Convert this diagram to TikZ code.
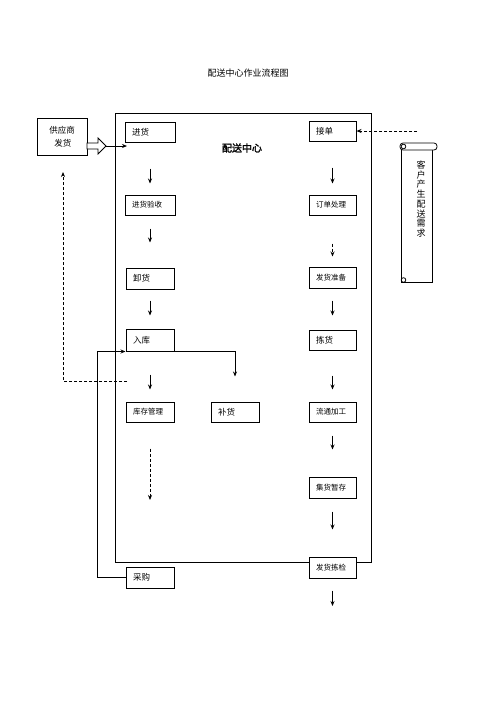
\documentclass[tikz,border=0pt]{standalone}
\usepackage{fontspec}
\newfontfamily\cjk{Noto Sans CJK SC}
\newfontfamily\cjkb{Noto Sans CJK SC}[FakeBold=2]
\usetikzlibrary{arrows.meta}
\tikzset{
  box/.style={draw, line width=1pt, fill=white, minimum height=20pt, text width=34pt,
    inner xsep=7pt, inner ysep=0pt, align=left, font=\cjk\fontsize{8.5}{10}\selectfont},
  smallbox/.style={box, font=\cjk\fontsize{7.5}{9}\selectfont},
  arr/.style={line width=0.8pt, -{Stealth[length=5pt,width=4pt]}},
  darr/.style={arr, dash pattern=on 3pt off 2pt},
  frame/.style={draw, line width=1pt, inner sep=0pt},
}
\begin{document}
\begin{tikzpicture}[x=1pt,y=-1pt]
\useasboundingbox (0,0) rectangle (496,702);
% title
\node[font=\cjk\fontsize{9}{11}\selectfont] (title) at (248,73) {配送中心作业流程图};
% big frame
\node[frame, minimum width=256pt, minimum height=449pt] (dc) at (243,337.5) {};
\node[font=\cjkb\fontsize{10}{12}\selectfont] (dclabel) at (242,148) {配送中心};
% supplier
\node[draw, line width=1pt, minimum width=50pt, minimum height=37pt, align=center,
  font=\cjk\fontsize{8.5}{13}\selectfont, inner sep=0pt] (sup) at (62,136.5) {供应商\\\ 发货};
% left column
\node[box, text width=36pt] (jinhuo) at (150,132) {进货};
\node[smallbox, text width=36pt] (yanshou) at (150,205) {进货验收};
\node[box, minimum height=21pt] (xiehuo) at (150,278.5) {卸货};
\node[box, minimum height=22pt] (ruku) at (150,340) {入库};
\node[smallbox] (kucun) at (150,412) {库存管理};
\node[box] (buhuo) at (235,412) {补货};
\node[box, minimum height=21pt] (caigou) at (150,577.5) {采购};
% right column
\node[box, text width=33pt] (jiedan) at (332.5,131) {接单};
\node[smallbox, text width=33pt] (dingdan) at (332.5,205) {订单处理};
\node[smallbox, text width=33pt, minimum height=21pt] (fazhunbei) at (332.5,277.5) {发货准备};
\node[box, text width=33pt] (jianhuo) at (332.5,340) {拣货};
\node[smallbox, text width=33pt] (liutong) at (332.5,412) {流通加工};
\node[smallbox, text width=33pt, minimum height=21pt] (jihuo) at (332.5,487.5) {集货暂存};
\node[smallbox, text width=33pt, minimum height=21pt] (fajian) at (332.5,567.5) {发货拣检};
% scroll
\draw[line width=0.8pt, fill=white] (401,146) -- (401,282) -- (432,282) -- (432,150);
\draw[line width=0.8pt, fill=white, rounded corners=3pt] (400,143) rectangle (437,150);
\draw[line width=0.8pt] (403.5,146.5) circle (2.3pt);
\draw[line width=0.8pt] (403.5,280) circle (2.3pt);
\node[font=\cjk\fontsize{9}{9.7}\selectfont, align=center, inner sep=0pt] (need) at (421,199)
  {客\\户\\产\\生\\配\\送\\需\\求};
% coordinates
\coordinate (supout) at (87,146);
\coordinate (supin) at (127,146);
\coordinate (cust) at (417,131);
\coordinate (kend) at (150,500);
\coordinate (fend) at (332.5,606);
\coordinate (fb1) at (127,381);
\coordinate (fb2) at (63,172);
\coordinate (cg) at (97,577.5);
% hollow arrow from supplier
\draw[line width=0.8pt, fill=white] (87,143) -- (98,143) -- (98,138) -- (106,146) -- (98,154)
  -- (98,149) -- (87,149) -- cycle;
\draw[arr, shorten <=19pt] (supout) -- (supin);
% left column arrows
\draw[arr, shorten <=26pt, shorten >=11pt] (jinhuo) -- (yanshou);
\draw[arr, shorten <=13pt, shorten >=25pt] (yanshou) -- (xiehuo);
\draw[arr, shorten <=11pt, shorten >=13pt] (xiehuo) -- (ruku);
\draw[arr, shorten <=23pt, shorten >=12pt] (ruku) -- (kucun);
\draw[darr, shorten <=26pt] (kucun) -- (kend);
\draw[arr, shorten >=25pt] (ruku.south east) -| (buhuo.north);
\draw[arr] (caigou.west) -- (cg) |- (ruku.south west);
\draw[darr] (fb1) -| (fb2);
% right column arrows
\draw[darr] (cust) -- (jiedan.east);
\draw[arr, shorten <=26pt, shorten >=11pt] (jiedan) -- (dingdan);
\draw[darr, shorten <=28pt, shorten >=10pt] (dingdan) -- (fazhunbei);
\draw[arr, shorten <=12pt, shorten >=14pt] (fazhunbei) -- (jianhuo);
\draw[arr, shorten <=25pt, shorten >=12pt] (jianhuo) -- (liutong);
\draw[arr, shorten <=13pt, shorten >=27pt] (liutong) -- (jihuo);
\draw[arr, shorten <=13pt, shorten >=27pt] (jihuo) -- (fajian);
\draw[arr, shorten <=12pt] (fajian) -- (fend);
\end{tikzpicture}
\end{document}
